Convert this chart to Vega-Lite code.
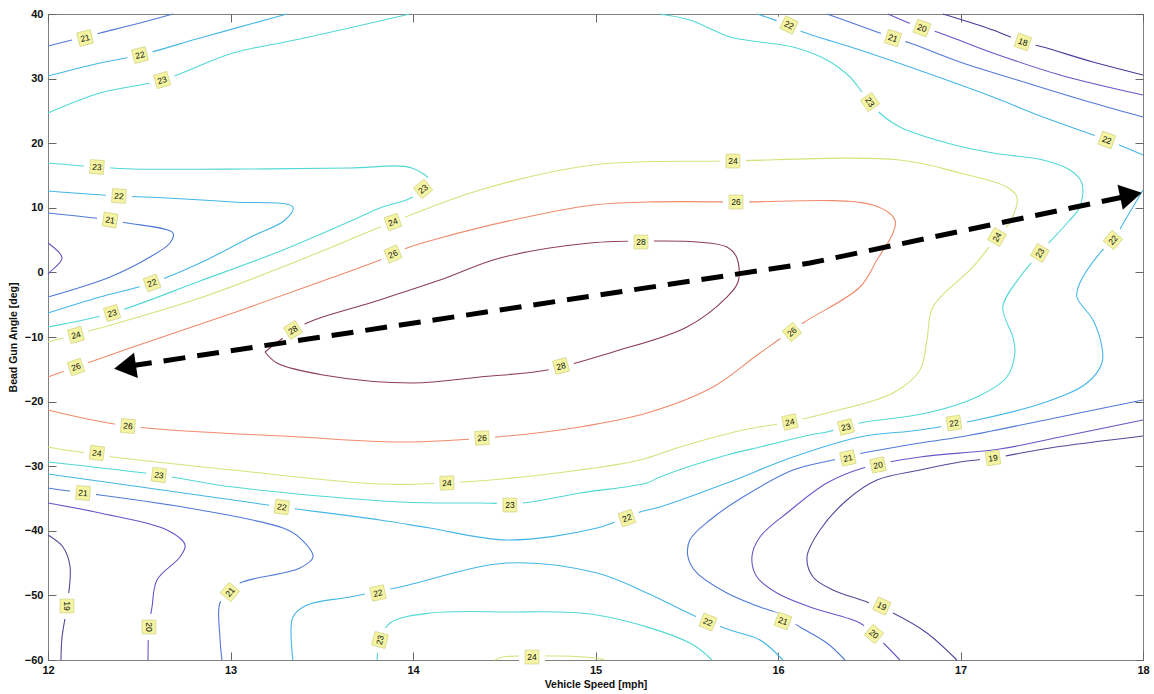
{
  "$schema": "https://vega.github.io/schema/vega-lite/v6.json",
  "width": 1095,
  "height": 646,
  "autosize": "none",
  "padding": {"left": 48, "top": 14, "right": 11, "bottom": 34},
  "background": "white",
  "config": {
    "view": {"stroke": "#808080", "strokeWidth": 1},
    "axis": {
      "grid": false, "domain": false, "tickSize": -8, "tickColor": "#666666", "tickWidth": 1,
      "labelFont": "Liberation Sans", "labelFontSize": 11, "labelFontWeight": "bold", "labelColor": "#111111",
      "titleFont": "Liberation Sans", "titleFontSize": 10.5, "titleFontWeight": "bold", "titleColor": "#111111"
    }
  },
  "datasets": {
    "c": [
      {"c":1,"l":"21","i":1,"x":12,"y":35.05},{"c":1,"l":"21","i":2,"x":12.285,"y":37.06},{"c":1,"l":"21","i":3,"x":12.504,"y":38.61},{"c":1,"l":"21","i":4,"x":12.685,"y":40},
      {"c":2,"l":"22","i":1,"x":12,"y":30.40},{"c":2,"l":"22","i":2,"x":12.285,"y":32.41},{"c":2,"l":"22","i":3,"x":12.504,"y":33.65},{"c":2,"l":"22","i":4,"x":12.833,"y":36.28},{"c":2,"l":"22","i":5,"x":13.309,"y":40},
      {"c":3,"l":"23","i":1,"x":12,"y":24.67},{"c":3,"l":"23","i":2,"x":12.285,"y":27.77},{"c":3,"l":"23","i":3,"x":12.625,"y":29.78},{"c":3,"l":"23","i":4,"x":13.014,"y":33.96},{"c":3,"l":"23","i":5,"x":13.381,"y":36.13},{"c":3,"l":"23","i":6,"x":13.983,"y":40},
      {"c":4,"l":"23","i":1,"x":15.353,"y":40},{"c":4,"l":"23","i":2,"x":15.517,"y":39.07},{"c":4,"l":"23","i":3,"x":15.737,"y":36.44},{"c":4,"l":"23","i":4,"x":15.901,"y":35.67},{"c":4,"l":"23","i":5,"x":16.082,"y":34.89},{"c":4,"l":"23","i":6,"x":16.268,"y":32.88},{"c":4,"l":"23","i":7,"x":16.394,"y":30.25},{"c":4,"l":"23","i":8,"x":16.465,"y":27.77},{"c":4,"l":"23","i":9,"x":16.558,"y":24.67},{"c":4,"l":"23","i":10,"x":16.668,"y":22.51},{"c":4,"l":"23","i":11,"x":16.926,"y":20.03},{"c":4,"l":"23","i":12,"x":17.178,"y":18.48},{"c":4,"l":"23","i":13,"x":17.452,"y":17.40},{"c":4,"l":"23","i":14,"x":17.600,"y":15.85},{"c":4,"l":"23","i":15,"x":17.665,"y":13.84},{"c":4,"l":"23","i":16,"x":17.654,"y":10.12},{"c":4,"l":"23","i":17,"x":17.589,"y":7.80},{"c":4,"l":"23","i":18,"x":17.435,"y":3.00},{"c":4,"l":"23","i":19,"x":17.326,"y":-0.71},{"c":4,"l":"23","i":20,"x":17.232,"y":-5.36},{"c":4,"l":"23","i":21,"x":17.287,"y":-10.00},{"c":4,"l":"23","i":22,"x":17.298,"y":-12.48},{"c":4,"l":"23","i":23,"x":17.254,"y":-16.19},{"c":4,"l":"23","i":24,"x":17.090,"y":-19.29},{"c":4,"l":"23","i":25,"x":16.816,"y":-21.77},{"c":4,"l":"23","i":26,"x":16.449,"y":-23.31},{"c":4,"l":"23","i":27,"x":16.268,"y":-24.71},{"c":4,"l":"23","i":28,"x":16.175,"y":-25.17},{"c":4,"l":"23","i":29,"x":15.901,"y":-27.03},{"c":4,"l":"23","i":30,"x":15.720,"y":-28.27},{"c":4,"l":"23","i":31,"x":15.353,"y":-31.67},{"c":4,"l":"23","i":32,"x":15.282,"y":-32.60},{"c":4,"l":"23","i":33,"x":14.915,"y":-34.15},{"c":4,"l":"23","i":34,"x":14.603,"y":-35.70},{"c":4,"l":"23","i":35,"x":14.367,"y":-35.70},{"c":4,"l":"23","i":36,"x":13.929,"y":-35.54},{"c":4,"l":"23","i":37,"x":13.014,"y":-33.22},{"c":4,"l":"23","i":38,"x":12.608,"y":-31.36},{"c":4,"l":"23","i":39,"x":12,"y":-29.35},
      {"c":5,"l":"22","i":1,"x":15.885,"y":40},{"c":5,"l":"22","i":2,"x":16.011,"y":38.76},{"c":5,"l":"22","i":3,"x":16.137,"y":37.21},{"c":5,"l":"22","i":4,"x":16.449,"y":34.43},{"c":5,"l":"22","i":5,"x":16.816,"y":30.87},{"c":5,"l":"22","i":6,"x":17.178,"y":27.15},{"c":5,"l":"22","i":7,"x":17.452,"y":24.06},{"c":5,"l":"22","i":8,"x":17.802,"y":20.50},{"c":5,"l":"22","i":9,"x":18,"y":18.17},
      {"c":6,"l":"21","i":1,"x":16.268,"y":40},{"c":6,"l":"21","i":2,"x":16.558,"y":37.06},{"c":6,"l":"21","i":3,"x":16.630,"y":36.28},{"c":6,"l":"21","i":4,"x":16.723,"y":35.51},{"c":6,"l":"21","i":5,"x":16.997,"y":32.57},{"c":6,"l":"21","i":6,"x":17.364,"y":29.32},{"c":6,"l":"21","i":7,"x":17.726,"y":26.22},{"c":6,"l":"21","i":8,"x":18,"y":24.06},
      {"c":7,"l":"20","i":1,"x":16.602,"y":40},{"c":7,"l":"20","i":2,"x":16.789,"y":37.83},{"c":7,"l":"20","i":3,"x":16.871,"y":37.21},{"c":7,"l":"20","i":4,"x":17.178,"y":33.96},{"c":7,"l":"20","i":5,"x":17.545,"y":30.56},{"c":7,"l":"20","i":6,"x":18,"y":27.46},
      {"c":8,"l":"18","i":1,"x":16.904,"y":40},{"c":8,"l":"18","i":2,"x":17.178,"y":37.52},{"c":8,"l":"18","i":3,"x":17.342,"y":35.67},{"c":8,"l":"18","i":4,"x":17.452,"y":34.89},{"c":8,"l":"18","i":5,"x":17.726,"y":32.57},{"c":8,"l":"18","i":6,"x":18,"y":30.56},
      {"c":9,"l":"23","i":1,"x":12,"y":16.93},{"c":9,"l":"23","i":2,"x":12.268,"y":16.32},{"c":9,"l":"23","i":3,"x":12.466,"y":16.01},{"c":9,"l":"23","i":4,"x":13.107,"y":16.01},{"c":9,"l":"23","i":5,"x":13.655,"y":16.16},{"c":9,"l":"23","i":6,"x":13.994,"y":16.16},{"c":9,"l":"23","i":7,"x":14.093,"y":13.99},{"c":9,"l":"23","i":8,"x":14.000,"y":11.67},{"c":9,"l":"23","i":9,"x":13.819,"y":9.97},{"c":9,"l":"23","i":10,"x":13.671,"y":8.11},{"c":9,"l":"23","i":11,"x":13.288,"y":3.47},{"c":9,"l":"23","i":12,"x":12.833,"y":-1.33},{"c":9,"l":"23","i":13,"x":12.351,"y":-6.29},{"c":9,"l":"23","i":14,"x":12,"y":-8.45},
      {"c":10,"l":"22","i":1,"x":12,"y":12.60},{"c":10,"l":"22","i":2,"x":12.389,"y":11.83},{"c":10,"l":"22","i":3,"x":12.652,"y":11.52},{"c":10,"l":"22","i":4,"x":13.014,"y":10.90},{"c":10,"l":"22","i":5,"x":13.342,"y":10.12},{"c":10,"l":"22","i":6,"x":13.299,"y":8.11},{"c":10,"l":"22","i":7,"x":13.123,"y":5.63},{"c":10,"l":"22","i":8,"x":12.833,"y":1.45},{"c":10,"l":"22","i":9,"x":12.570,"y":-1.64},{"c":10,"l":"22","i":10,"x":12.285,"y":-3.81},{"c":10,"l":"22","i":11,"x":12,"y":-6.29},
      {"c":11,"l":"21","i":1,"x":12,"y":9.19},{"c":11,"l":"21","i":2,"x":12.340,"y":8.11},{"c":11,"l":"21","i":3,"x":12.433,"y":7.65},{"c":11,"l":"21","i":4,"x":12.685,"y":6.10},{"c":11,"l":"21","i":5,"x":12.668,"y":4.55},{"c":11,"l":"21","i":6,"x":12.559,"y":2.38},{"c":11,"l":"21","i":7,"x":12.340,"y":-0.71},{"c":11,"l":"21","i":8,"x":12,"y":-3.81},
      {"c":12,"l":"20","i":1,"x":12,"y":4.55},{"c":12,"l":"20","i":2,"x":12.077,"y":2.23},{"c":12,"l":"20","i":3,"x":12.011,"y":0.06},{"c":12,"l":"20","i":4,"x":12,"y":-0.25},
      {"c":13,"l":"24","i":1,"x":12,"y":-10.77},{"c":13,"l":"24","i":2,"x":12.285,"y":-8.61},{"c":13,"l":"24","i":3,"x":12.833,"y":-3.96},{"c":13,"l":"24","i":4,"x":13.381,"y":1.92},{"c":13,"l":"24","i":5,"x":13.890,"y":7.80},{"c":13,"l":"24","i":6,"x":14.367,"y":12.76},{"c":13,"l":"24","i":7,"x":14.986,"y":16.63},{"c":13,"l":"24","i":8,"x":15.726,"y":17.24},{"c":13,"l":"24","i":9,"x":16.668,"y":17.40},{"c":13,"l":"24","i":10,"x":16.997,"y":15.39},{"c":13,"l":"24","i":11,"x":17.254,"y":13.22},{"c":13,"l":"24","i":12,"x":17.309,"y":11.67},{"c":13,"l":"24","i":13,"x":17.271,"y":7.80},{"c":13,"l":"24","i":14,"x":17.200,"y":5.48},{"c":13,"l":"24","i":15,"x":17.068,"y":0.84},{"c":13,"l":"24","i":16,"x":16.849,"y":-5.36},{"c":13,"l":"24","i":17,"x":16.816,"y":-10.47},{"c":13,"l":"24","i":18,"x":16.778,"y":-15.11},{"c":13,"l":"24","i":19,"x":16.630,"y":-18.67},{"c":13,"l":"24","i":20,"x":16.268,"y":-21.77},{"c":13,"l":"24","i":21,"x":16.065,"y":-23.16},{"c":13,"l":"24","i":22,"x":15.808,"y":-24.40},{"c":13,"l":"24","i":23,"x":15.463,"y":-27.03},{"c":13,"l":"24","i":24,"x":15.244,"y":-29.04},{"c":13,"l":"24","i":25,"x":14.915,"y":-30.59},{"c":13,"l":"24","i":26,"x":14.274,"y":-32.45},{"c":13,"l":"24","i":27,"x":13.819,"y":-32.76},{"c":13,"l":"24","i":28,"x":13.014,"y":-30.59},{"c":13,"l":"24","i":29,"x":12.356,"y":-28.58},{"c":13,"l":"24","i":30,"x":12,"y":-27.03},
      {"c":14,"l":"22","i":1,"x":18,"y":12.76},{"c":14,"l":"22","i":2,"x":17.912,"y":8.58},{"c":14,"l":"22","i":3,"x":17.835,"y":5.02},{"c":14,"l":"22","i":4,"x":17.764,"y":3.00},{"c":14,"l":"22","i":5,"x":17.654,"y":-1.64},{"c":14,"l":"22","i":6,"x":17.638,"y":-3.81},{"c":14,"l":"22","i":7,"x":17.726,"y":-7.37},{"c":14,"l":"22","i":8,"x":17.775,"y":-11.55},{"c":14,"l":"22","i":9,"x":17.775,"y":-14.03},{"c":14,"l":"22","i":10,"x":17.693,"y":-17.12},{"c":14,"l":"22","i":11,"x":17.452,"y":-20.22},{"c":14,"l":"22","i":12,"x":17.090,"y":-22.85},{"c":14,"l":"22","i":13,"x":16.778,"y":-24.40},{"c":14,"l":"22","i":14,"x":16.449,"y":-25.48},{"c":14,"l":"22","i":15,"x":16.082,"y":-28.58},{"c":14,"l":"22","i":16,"x":15.720,"y":-32.60},{"c":14,"l":"22","i":17,"x":15.353,"y":-36.32},{"c":14,"l":"22","i":18,"x":15.244,"y":-37.09},{"c":14,"l":"22","i":19,"x":15.008,"y":-39.57},{"c":14,"l":"22","i":20,"x":14.515,"y":-41.42},{"c":14,"l":"22","i":21,"x":14.093,"y":-39.57},{"c":14,"l":"22","i":22,"x":13.819,"y":-38.33},{"c":14,"l":"22","i":23,"x":13.282,"y":-36.32},{"c":14,"l":"22","i":24,"x":13.014,"y":-35.23},{"c":14,"l":"22","i":25,"x":12,"y":-31.21},
      {"c":15,"l":"22","i":1,"x":13.342,"y":-60},{"c":15,"l":"22","i":2,"x":13.342,"y":-53.34},{"c":15,"l":"22","i":3,"x":13.419,"y":-51.49},{"c":15,"l":"22","i":4,"x":13.655,"y":-50.25},{"c":15,"l":"22","i":5,"x":13.929,"y":-48.70},{"c":15,"l":"22","i":6,"x":14.515,"y":-44.99},{"c":15,"l":"22","i":7,"x":15.008,"y":-46.53},{"c":15,"l":"22","i":8,"x":15.282,"y":-49.63},{"c":15,"l":"22","i":9,"x":15.556,"y":-53.34},{"c":15,"l":"22","i":10,"x":15.737,"y":-55.36},{"c":15,"l":"22","i":11,"x":15.901,"y":-56.90},{"c":15,"l":"22","i":12,"x":16.027,"y":-60},
      {"c":16,"l":"23","i":1,"x":13.803,"y":-60},{"c":16,"l":"23","i":2,"x":13.819,"y":-56.90},{"c":16,"l":"23","i":3,"x":13.874,"y":-54.27},{"c":16,"l":"23","i":4,"x":14.093,"y":-52.73},{"c":16,"l":"23","i":5,"x":14.515,"y":-52.57},{"c":16,"l":"23","i":6,"x":15.008,"y":-53.03},{"c":16,"l":"23","i":7,"x":15.517,"y":-57.37},{"c":16,"l":"23","i":8,"x":15.638,"y":-60},
      {"c":17,"l":"24","i":1,"x":14.449,"y":-60},{"c":17,"l":"24","i":2,"x":14.493,"y":-59.54},{"c":17,"l":"24","i":3,"x":14.805,"y":-59.38},{"c":17,"l":"24","i":4,"x":14.997,"y":-59.69},{"c":17,"l":"24","i":5,"x":15.052,"y":-60},
      {"c":18,"l":"21","i":1,"x":12,"y":-33.38},{"c":18,"l":"21","i":2,"x":12.192,"y":-34.15},{"c":18,"l":"21","i":3,"x":12.285,"y":-34.46},{"c":18,"l":"21","i":4,"x":12.833,"y":-36.78},{"c":18,"l":"21","i":5,"x":13.288,"y":-39.57},{"c":18,"l":"21","i":6,"x":13.381,"y":-41.12},{"c":18,"l":"21","i":7,"x":13.452,"y":-44.06},{"c":18,"l":"21","i":8,"x":13.381,"y":-45.76},{"c":18,"l":"21","i":9,"x":13.052,"y":-48.08},{"c":18,"l":"21","i":10,"x":12.997,"y":-49.47},{"c":18,"l":"21","i":11,"x":12.942,"y":-51.18},{"c":18,"l":"21","i":12,"x":12.942,"y":-56.44},{"c":18,"l":"21","i":13,"x":12.953,"y":-60},
      {"c":19,"l":"20","i":1,"x":12,"y":-35.70},{"c":19,"l":"20","i":2,"x":12.285,"y":-37.25},{"c":19,"l":"20","i":3,"x":12.652,"y":-39.88},{"c":19,"l":"20","i":4,"x":12.751,"y":-42.20},{"c":19,"l":"20","i":5,"x":12.723,"y":-44.06},{"c":19,"l":"20","i":6,"x":12.597,"y":-47.62},{"c":19,"l":"20","i":7,"x":12.570,"y":-51.80},{"c":19,"l":"20","i":8,"x":12.553,"y":-54.89},{"c":19,"l":"20","i":9,"x":12.548,"y":-60},
      {"c":20,"l":"19","i":1,"x":12,"y":-40.65},{"c":20,"l":"19","i":2,"x":12.082,"y":-42.51},{"c":20,"l":"19","i":3,"x":12.121,"y":-45.60},{"c":20,"l":"19","i":4,"x":12.104,"y":-51.64},{"c":20,"l":"19","i":5,"x":12.077,"y":-56.44},{"c":20,"l":"19","i":6,"x":12.071,"y":-60},
      {"c":21,"l":"21","i":1,"x":18,"y":-19.75},{"c":21,"l":"21","i":2,"x":17.545,"y":-22.38},{"c":21,"l":"21","i":3,"x":16.997,"y":-25.48},{"c":21,"l":"21","i":4,"x":16.778,"y":-26.41},{"c":21,"l":"21","i":5,"x":16.466,"y":-27.96},{"c":21,"l":"21","i":6,"x":16.301,"y":-29.04},{"c":21,"l":"21","i":7,"x":16.082,"y":-30.59},{"c":21,"l":"21","i":8,"x":15.808,"y":-34.77},{"c":21,"l":"21","i":9,"x":15.627,"y":-38.33},{"c":21,"l":"21","i":10,"x":15.517,"y":-41.42},{"c":21,"l":"21","i":11,"x":15.507,"y":-44.06},{"c":21,"l":"21","i":12,"x":15.556,"y":-46.53},{"c":21,"l":"21","i":13,"x":15.720,"y":-49.63},{"c":21,"l":"21","i":14,"x":15.901,"y":-51.80},{"c":21,"l":"21","i":15,"x":15.994,"y":-52.73},{"c":21,"l":"21","i":16,"x":16.121,"y":-54.89},{"c":21,"l":"21","i":17,"x":16.268,"y":-57.37},{"c":21,"l":"21","i":18,"x":16.367,"y":-60},
      {"c":22,"l":"20","i":1,"x":18,"y":-22.85},{"c":22,"l":"20","i":2,"x":17.545,"y":-25.48},{"c":22,"l":"20","i":3,"x":17.216,"y":-27.34},{"c":22,"l":"20","i":4,"x":16.778,"y":-28.58},{"c":22,"l":"20","i":5,"x":16.466,"y":-30.28},{"c":22,"l":"20","i":6,"x":16.268,"y":-32.60},{"c":22,"l":"20","i":7,"x":16.049,"y":-37.25},{"c":22,"l":"20","i":8,"x":15.901,"y":-40.96},{"c":22,"l":"20","i":9,"x":15.857,"y":-44.06},{"c":22,"l":"20","i":10,"x":15.885,"y":-47.15},{"c":22,"l":"20","i":11,"x":15.994,"y":-49.63},{"c":22,"l":"20","i":12,"x":16.175,"y":-51.80},{"c":22,"l":"20","i":13,"x":16.449,"y":-54.27},{"c":22,"l":"20","i":14,"x":16.526,"y":-55.98},{"c":22,"l":"20","i":15,"x":16.668,"y":-60},
      {"c":23,"l":"19","i":1,"x":18,"y":-25.33},{"c":23,"l":"19","i":2,"x":17.490,"y":-27.18},{"c":23,"l":"19","i":3,"x":17.178,"y":-28.73},{"c":23,"l":"19","i":4,"x":16.997,"y":-29.35},{"c":23,"l":"19","i":5,"x":16.778,"y":-30.59},{"c":23,"l":"19","i":6,"x":16.542,"y":-32.14},{"c":23,"l":"19","i":7,"x":16.378,"y":-35.23},{"c":23,"l":"19","i":8,"x":16.230,"y":-39.88},{"c":23,"l":"19","i":9,"x":16.159,"y":-44.06},{"c":23,"l":"19","i":10,"x":16.192,"y":-47.15},{"c":23,"l":"19","i":11,"x":16.301,"y":-49.16},{"c":23,"l":"19","i":12,"x":16.487,"y":-51.02},{"c":23,"l":"19","i":13,"x":16.630,"y":-52.73},{"c":23,"l":"19","i":14,"x":16.816,"y":-55.82},{"c":23,"l":"19","i":15,"x":16.980,"y":-60},
      {"c":24,"l":"26","i":1,"x":12,"y":-16.19},{"c":24,"l":"26","i":2,"x":12.153,"y":-14.64},{"c":24,"l":"26","i":3,"x":12.466,"y":-11.55},{"c":24,"l":"26","i":4,"x":13.014,"y":-6.29},{"c":24,"l":"26","i":5,"x":13.474,"y":-1.64},{"c":24,"l":"26","i":6,"x":13.819,"y":1.92},{"c":24,"l":"26","i":7,"x":13.967,"y":3.78},{"c":24,"l":"26","i":8,"x":14.148,"y":5.32},{"c":24,"l":"26","i":9,"x":14.548,"y":8.11},{"c":24,"l":"26","i":10,"x":14.986,"y":10.43},{"c":24,"l":"26","i":11,"x":15.282,"y":10.90},{"c":24,"l":"26","i":12,"x":15.770,"y":10.90},{"c":24,"l":"26","i":13,"x":16.520,"y":10.43},{"c":24,"l":"26","i":14,"x":16.641,"y":8.11},{"c":24,"l":"26","i":15,"x":16.630,"y":6.10},{"c":24,"l":"26","i":16,"x":16.542,"y":1.92},{"c":24,"l":"26","i":17,"x":16.449,"y":-2.26},{"c":24,"l":"26","i":18,"x":16.137,"y":-7.83},{"c":24,"l":"26","i":19,"x":15.901,"y":-12.48},{"c":24,"l":"26","i":20,"x":15.644,"y":-17.74},{"c":24,"l":"26","i":21,"x":15.282,"y":-21.77},{"c":24,"l":"26","i":22,"x":14.915,"y":-23.93},{"c":24,"l":"26","i":23,"x":14.460,"y":-25.48},{"c":24,"l":"26","i":24,"x":13.929,"y":-26.25},{"c":24,"l":"26","i":25,"x":13.381,"y":-25.48},{"c":24,"l":"26","i":26,"x":12.438,"y":-23.78},{"c":24,"l":"26","i":27,"x":12,"y":-21.30},
      {"c":25,"l":"28","i":1,"x":13.189,"y":-12.32},{"c":25,"l":"28","i":2,"x":13.288,"y":-10.16},{"c":25,"l":"28","i":3,"x":13.419,"y":-7.83},{"c":25,"l":"28","i":4,"x":13.781,"y":-4.58},{"c":25,"l":"28","i":5,"x":14.148,"y":-1.18},{"c":25,"l":"28","i":6,"x":14.477,"y":2.23},{"c":25,"l":"28","i":7,"x":14.970,"y":4.55},{"c":25,"l":"28","i":8,"x":15.337,"y":4.86},{"c":25,"l":"28","i":9,"x":15.556,"y":4.71},{"c":25,"l":"28","i":10,"x":15.720,"y":3.93},{"c":25,"l":"28","i":11,"x":15.775,"y":2.23},{"c":25,"l":"28","i":12,"x":15.781,"y":-1.49},{"c":25,"l":"28","i":13,"x":15.720,"y":-3.81},{"c":25,"l":"28","i":14,"x":15.501,"y":-8.45},{"c":25,"l":"28","i":15,"x":15.096,"y":-12.32},{"c":25,"l":"28","i":16,"x":14.734,"y":-15.11},{"c":25,"l":"28","i":17,"x":14.367,"y":-16.19},{"c":25,"l":"28","i":18,"x":14.000,"y":-17.12},{"c":25,"l":"28","i":19,"x":13.507,"y":-15.88},{"c":25,"l":"28","i":20,"x":13.255,"y":-14.03},{"c":25,"l":"28","i":21,"x":13.189,"y":-12.32}
    ],
    "lab": [
      {"t":"21","x":12.203,"y":36.28,"r":-14},{"t":"22","x":12.504,"y":33.65,"r":-14},{"t":"23","x":12.625,"y":29.78,"r":-17},
      {"t":"23","x":12.268,"y":16.32,"r":4},{"t":"22","x":12.389,"y":11.83,"r":4},{"t":"21","x":12.340,"y":8.11,"r":9},
      {"t":"22","x":12.570,"y":-1.64,"r":-20},{"t":"23","x":12.351,"y":-6.29,"r":-17},{"t":"24","x":12.153,"y":-9.69,"r":-15},
      {"t":"26","x":12.153,"y":-14.64,"r":-19},{"t":"28","x":13.342,"y":-8.92,"r":-32},{"t":"26","x":13.890,"y":2.85,"r":-24},
      {"t":"24","x":13.890,"y":7.80,"r":-20},{"t":"23","x":14.055,"y":12.91,"r":-40},{"t":"24","x":15.753,"y":17.24,"r":0},
      {"t":"26","x":15.770,"y":10.90,"r":0},{"t":"28","x":15.249,"y":4.71,"r":0},{"t":"28","x":14.811,"y":-14.49,"r":-15},
      {"t":"26","x":14.378,"y":-25.63,"r":-3},{"t":"26","x":12.438,"y":-23.78,"r":5},{"t":"24","x":12.268,"y":-27.96,"r":7},
      {"t":"23","x":12.608,"y":-31.36,"r":7},{"t":"21","x":12.192,"y":-34.15,"r":5},{"t":"22","x":13.282,"y":-36.32,"r":8},
      {"t":"24","x":14.186,"y":-32.60,"r":-2},{"t":"23","x":14.531,"y":-36.01,"r":0},{"t":"22","x":15.172,"y":-38.02,"r":-20},
      {"t":"21","x":12.997,"y":-49.47,"r":-50},{"t":"20","x":12.553,"y":-54.89,"r":90},{"t":"19","x":12.104,"y":-51.64,"r":90},
      {"t":"22","x":13.808,"y":-49.63,"r":-12},{"t":"23","x":13.819,"y":-56.90,"r":-75},{"t":"24","x":14.652,"y":-59.54,"r":0},
      {"t":"22","x":15.616,"y":-54.12,"r":22},{"t":"21","x":16.027,"y":-53.96,"r":20},{"t":"20","x":16.526,"y":-55.98,"r":40},
      {"t":"19","x":16.569,"y":-51.64,"r":25},{"t":"21","x":16.383,"y":-28.73,"r":-12},{"t":"20","x":16.548,"y":-29.82,"r":-12},
      {"t":"19","x":17.178,"y":-28.73,"r":-9},{"t":"24","x":16.065,"y":-23.16,"r":-12},{"t":"23","x":16.372,"y":-23.93,"r":-15},
      {"t":"22","x":16.964,"y":-23.31,"r":-9},{"t":"26","x":16.076,"y":-9.23,"r":-40},{"t":"24","x":17.200,"y":5.48,"r":-60},
      {"t":"23","x":17.435,"y":3.00,"r":-60},{"t":"22","x":17.835,"y":5.02,"r":-50},{"t":"22","x":16.060,"y":38.30,"r":25},
      {"t":"21","x":16.630,"y":36.28,"r":18},{"t":"20","x":16.789,"y":37.83,"r":20},{"t":"18","x":17.342,"y":35.67,"r":19},
      {"t":"23","x":16.504,"y":26.38,"r":55},{"t":"22","x":17.802,"y":20.50,"r":20}
    ],
    "arrow": [
      {"i":1,"x":12.449,"y":-14.49},{"i":2,"x":16.175,"y":1.45},{"i":3,"x":17.917,"y":11.83}
    ]
  },
  "resolve": {"axis": {"x": "independent", "y": "independent"}},
  "layer": [
    {
      "layer": [
        {
          "data": {"name": "c"},
          "mark": {"type": "line", "strokeWidth": 1.1, "interpolate": "catmull-rom"},
          "encoding": {
            "x": {"field": "x", "type": "quantitative", "scale": {"domain": [12, 18], "nice": false, "zero": false},
                  "title": "Vehicle Speed [mph]",
                  "axis": {"values": [12, 13, 14, 15, 16, 17, 18], "format": "d", "labelPadding": 12, "titlePadding": 4, "labelFlush": false}},
            "y": {"field": "y", "type": "quantitative", "scale": {"domain": [-60, 40], "nice": false, "zero": false},
                  "title": "Bead Gun Angle [deg]",
                  "axis": {"values": [-60, -50, -40, -30, -20, -10, 0, 10, 20, 30, 40], "format": "d", "labelPadding": 13, "titlePadding": 6, "labelFlush": false}},
            "color": {"field": "l", "type": "nominal", "legend": null,
                      "scale": {"domain": ["18", "19", "20", "21", "22", "23", "24", "26", "28"],
                                "range": ["#4b3a9a", "#56489c", "#6a55c8", "#5079d8", "#45b6e8", "#52d8d4", "#cfe57a", "#f08a6c", "#8e3d5a"]}},
            "detail": {"field": "c", "type": "nominal"},
            "order": {"field": "i", "type": "quantitative"}
          }
        },
        {
          "data": {"name": "lab"},
          "mark": {"type": "point", "shape": "M-1,-0.42L1,-0.42L1,0.42L-1,0.42Z", "size": 676, "filled": true, "fill": "white", "opacity": 1, "strokeWidth": 0},
          "encoding": {
            "x": {"field": "x", "type": "quantitative"},
            "y": {"field": "y", "type": "quantitative"},
            "angle": {"field": "r", "type": "quantitative", "scale": null}
          }
        },
        {
          "data": {"name": "lab"},
          "mark": {"type": "point", "shape": "square", "size": 190, "filled": true, "fill": "#f4f4a2", "stroke": "#d6d68c", "strokeWidth": 0.8, "opacity": 1},
          "encoding": {
            "x": {"field": "x", "type": "quantitative"},
            "y": {"field": "y", "type": "quantitative"},
            "angle": {"field": "r", "type": "quantitative", "scale": null}
          }
        },
        {
          "data": {"name": "lab"},
          "mark": {"type": "text", "font": "Liberation Sans", "fontSize": 8.5, "color": "#111111", "align": "center", "baseline": "middle"},
          "encoding": {
            "x": {"field": "x", "type": "quantitative"},
            "y": {"field": "y", "type": "quantitative"},
            "text": {"field": "t"},
            "angle": {"field": "r", "type": "quantitative", "scale": null}
          }
        },
        {
          "data": {"name": "arrow"},
          "mark": {"type": "line", "color": "black", "strokeWidth": 5, "strokeDash": [22, 12], "strokeCap": "butt"},
          "encoding": {
            "x": {"field": "x", "type": "quantitative"},
            "y": {"field": "y", "type": "quantitative"},
            "order": {"field": "i", "type": "quantitative"}
          }
        },
        {
          "data": {"values": [{"x": 12.422, "y": -14.64}]},
          "mark": {"type": "point", "shape": "triangle-left", "size": 650, "filled": true, "color": "black", "opacity": 1, "angle": -8.6},
          "encoding": {
            "x": {"field": "x", "type": "quantitative"},
            "y": {"field": "y", "type": "quantitative"}
          }
        },
        {
          "data": {"values": [{"x": 17.934, "y": 11.98}]},
          "mark": {"type": "point", "shape": "triangle-right", "size": 650, "filled": true, "color": "black", "opacity": 1, "angle": -12},
          "encoding": {
            "x": {"field": "x", "type": "quantitative"},
            "y": {"field": "y", "type": "quantitative"}
          }
        }
      ]
    },
    {
      "data": {"name": "arrow"},
      "mark": {"type": "point", "opacity": 0},
      "encoding": {
        "x": {"field": "x", "type": "quantitative", "scale": {"domain": [12, 18], "nice": false, "zero": false},
              "axis": {"orient": "top", "values": [12, 13, 14, 15, 16, 17, 18], "labels": false, "title": null}},
        "y": {"field": "y", "type": "quantitative", "scale": {"domain": [-60, 40], "nice": false, "zero": false},
              "axis": {"orient": "right", "values": [-60, -50, -40, -30, -20, -10, 0, 10, 20, 30, 40], "labels": false, "title": null}}
      }
    }
  ]
}
